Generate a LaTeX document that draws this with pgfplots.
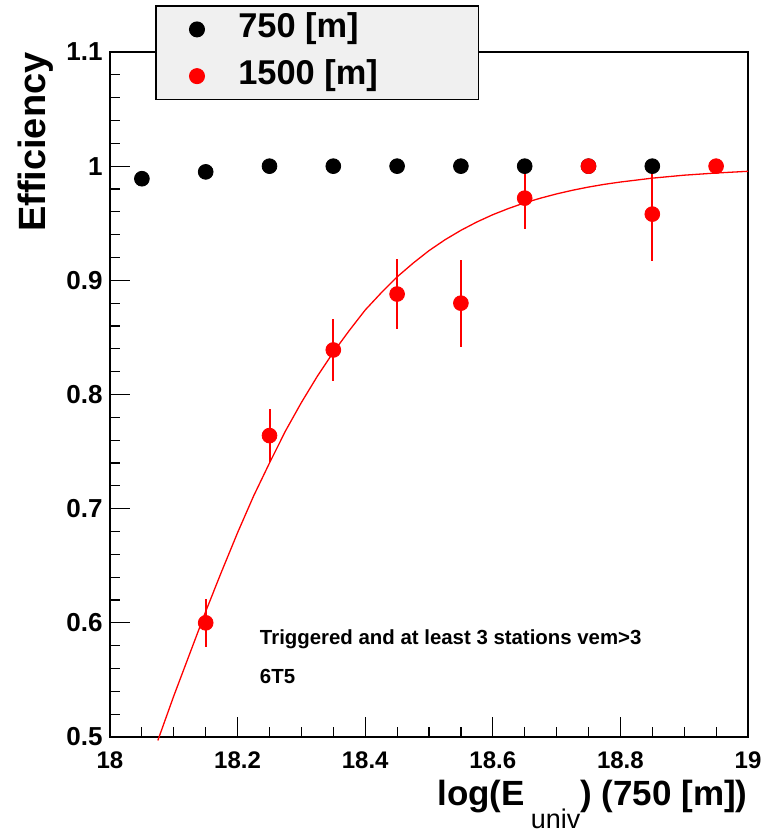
\documentclass[border=0pt]{standalone}
\usepackage{fontspec}
\setmainfont{Liberation Sans}
\usepackage{pgfplots}
\pgfplotsset{compat=1.18}
\definecolor{legendgray}{HTML}{F0F0F0}
\begin{document}
\begin{tikzpicture}
\begin{axis}[
  name=ax,
  scale only axis,
  width=319pt, height=342.5pt,
  xmin=18, xmax=19, ymin=0.5, ymax=1.1,
  xtick={18,18.2,18.4,18.6,18.8,19},
  xticklabels={18,18.2,18.4,18.6,18.8,19},
  ytick={0.5,0.6,0.7,0.8,0.9,1,1.1},
  yticklabels={0.5,0.6,0.7,0.8,0.9,1,1.1},
  minor x tick num=3, minor y tick num=4,
  tick align=inside, tick pos=left,
  major tick length=10pt, minor tick length=5pt,
  tick style={black, line width=0.6pt},
  axis line style={black, line width=0.75pt},
  xticklabel style={font=\bfseries\fontsize{12}{14}\selectfont, anchor=base, inner sep=0pt, yshift=-15.5pt},
  yticklabel style={font=\bfseries\fontsize{13}{15}\selectfont, anchor=east, inner sep=0pt, xshift=-3.5pt},
  clip=false,
  legend cell align=left,
  legend image code/.code={\path (-20.15pt,0pt) (20.35pt,0pt); \draw[#1] plot coordinates {(0pt,0pt)};},
  legend style={at={(0.0713,1.0679)}, anchor=north west, fill=legendgray, draw=black,
    line width=0.6pt, inner sep=0pt, row sep=0pt, column sep=0pt,
    nodes={inner sep=0pt, anchor=west, text height=15.85pt, text depth=7.5pt},
    font=\bfseries\fontsize{17.2}{19}\selectfont},
]
% 750 m array
\addplot[only marks, mark=*, mark size=3.7pt, black] coordinates {
  (18.05,0.989) (18.15,0.995) (18.25,1.000) (18.35,1.000) (18.45,1.000)
  (18.55,1.000) (18.65,1.000) (18.75,1.000) (18.85,1.000)};
\addlegendentry{\makebox[120pt][l]{750 [m]}}
% 1500 m array
\addplot[only marks, mark=*, mark size=3.7pt, red, mark options={fill=red, draw=red},
  error bars/.cd, y dir=both, y explicit, error mark=none,
  error bar style={red, line width=1pt}] coordinates {
  (18.15,0.600) +- (0,0.021)
  (18.25,0.764) +- (0,0.023)
  (18.35,0.839) +- (0,0.027)
  (18.45,0.888) +- (0,0.031)
  (18.55,0.880) +- (0,0.038)
  (18.65,0.972) +- (0,0.027)
  (18.75,1.000) +- (0,0)
  (18.85,0.958) +- (0,0.041)
  (18.95,1.000) +- (0,0)};
\addlegendentry{\makebox[120pt][l]{1500 [m]}}
% fit
\addplot[red, line width=0.65pt, forget plot] coordinates {
  (18.075,0.497) (18.100,0.536) (18.125,0.573) (18.150,0.610) (18.175,0.645)
  (18.200,0.679) (18.225,0.711) (18.250,0.740) (18.275,0.768) (18.300,0.793)
  (18.325,0.816) (18.350,0.837) (18.375,0.856) (18.400,0.874) (18.425,0.889)
  (18.450,0.903) (18.475,0.915) (18.500,0.926) (18.525,0.9355) (18.550,0.9438)
  (18.575,0.9511) (18.600,0.9575) (18.625,0.9630) (18.650,0.9679) (18.675,0.9720)
  (18.700,0.9757) (18.725,0.9789) (18.750,0.9817) (18.775,0.9841) (18.800,0.9861)
  (18.850,0.9895) (18.900,0.9921) (18.950,0.9940) (19.000,0.9955)};
\node[anchor=base west, font=\bfseries\fontsize{10.2}{12}\selectfont] at (axis cs:18.224,0.5807) {Triggered and at least 3 stations vem>3};
\node[anchor=base west, font=\bfseries\fontsize{10.2}{12}\selectfont] at (axis cs:18.224,0.5465) {6T5};
\node[anchor=base east, inner sep=0pt, font=\bfseries\fontsize{17.5}{20}\selectfont] at ([yshift=-34pt]rel axis cs:1,0)
  {log(E\hspace{3pt}\raisebox{-11.5pt}{\mdseries\fontsize{13.5}{15}\selectfont univ}) (750 [m])};
\node[rotate=90, anchor=base east, inner sep=0pt, font=\bfseries\fontsize{19}{22}\selectfont] at ([xshift=-32pt]rel axis cs:0,1) {Efficiency};
\end{axis}
\pgfresetboundingbox
\path ([xshift=-55pt,yshift=-49pt]ax.south west) rectangle ([xshift=8pt,yshift=26pt]ax.north east);
\end{tikzpicture}
\end{document}
